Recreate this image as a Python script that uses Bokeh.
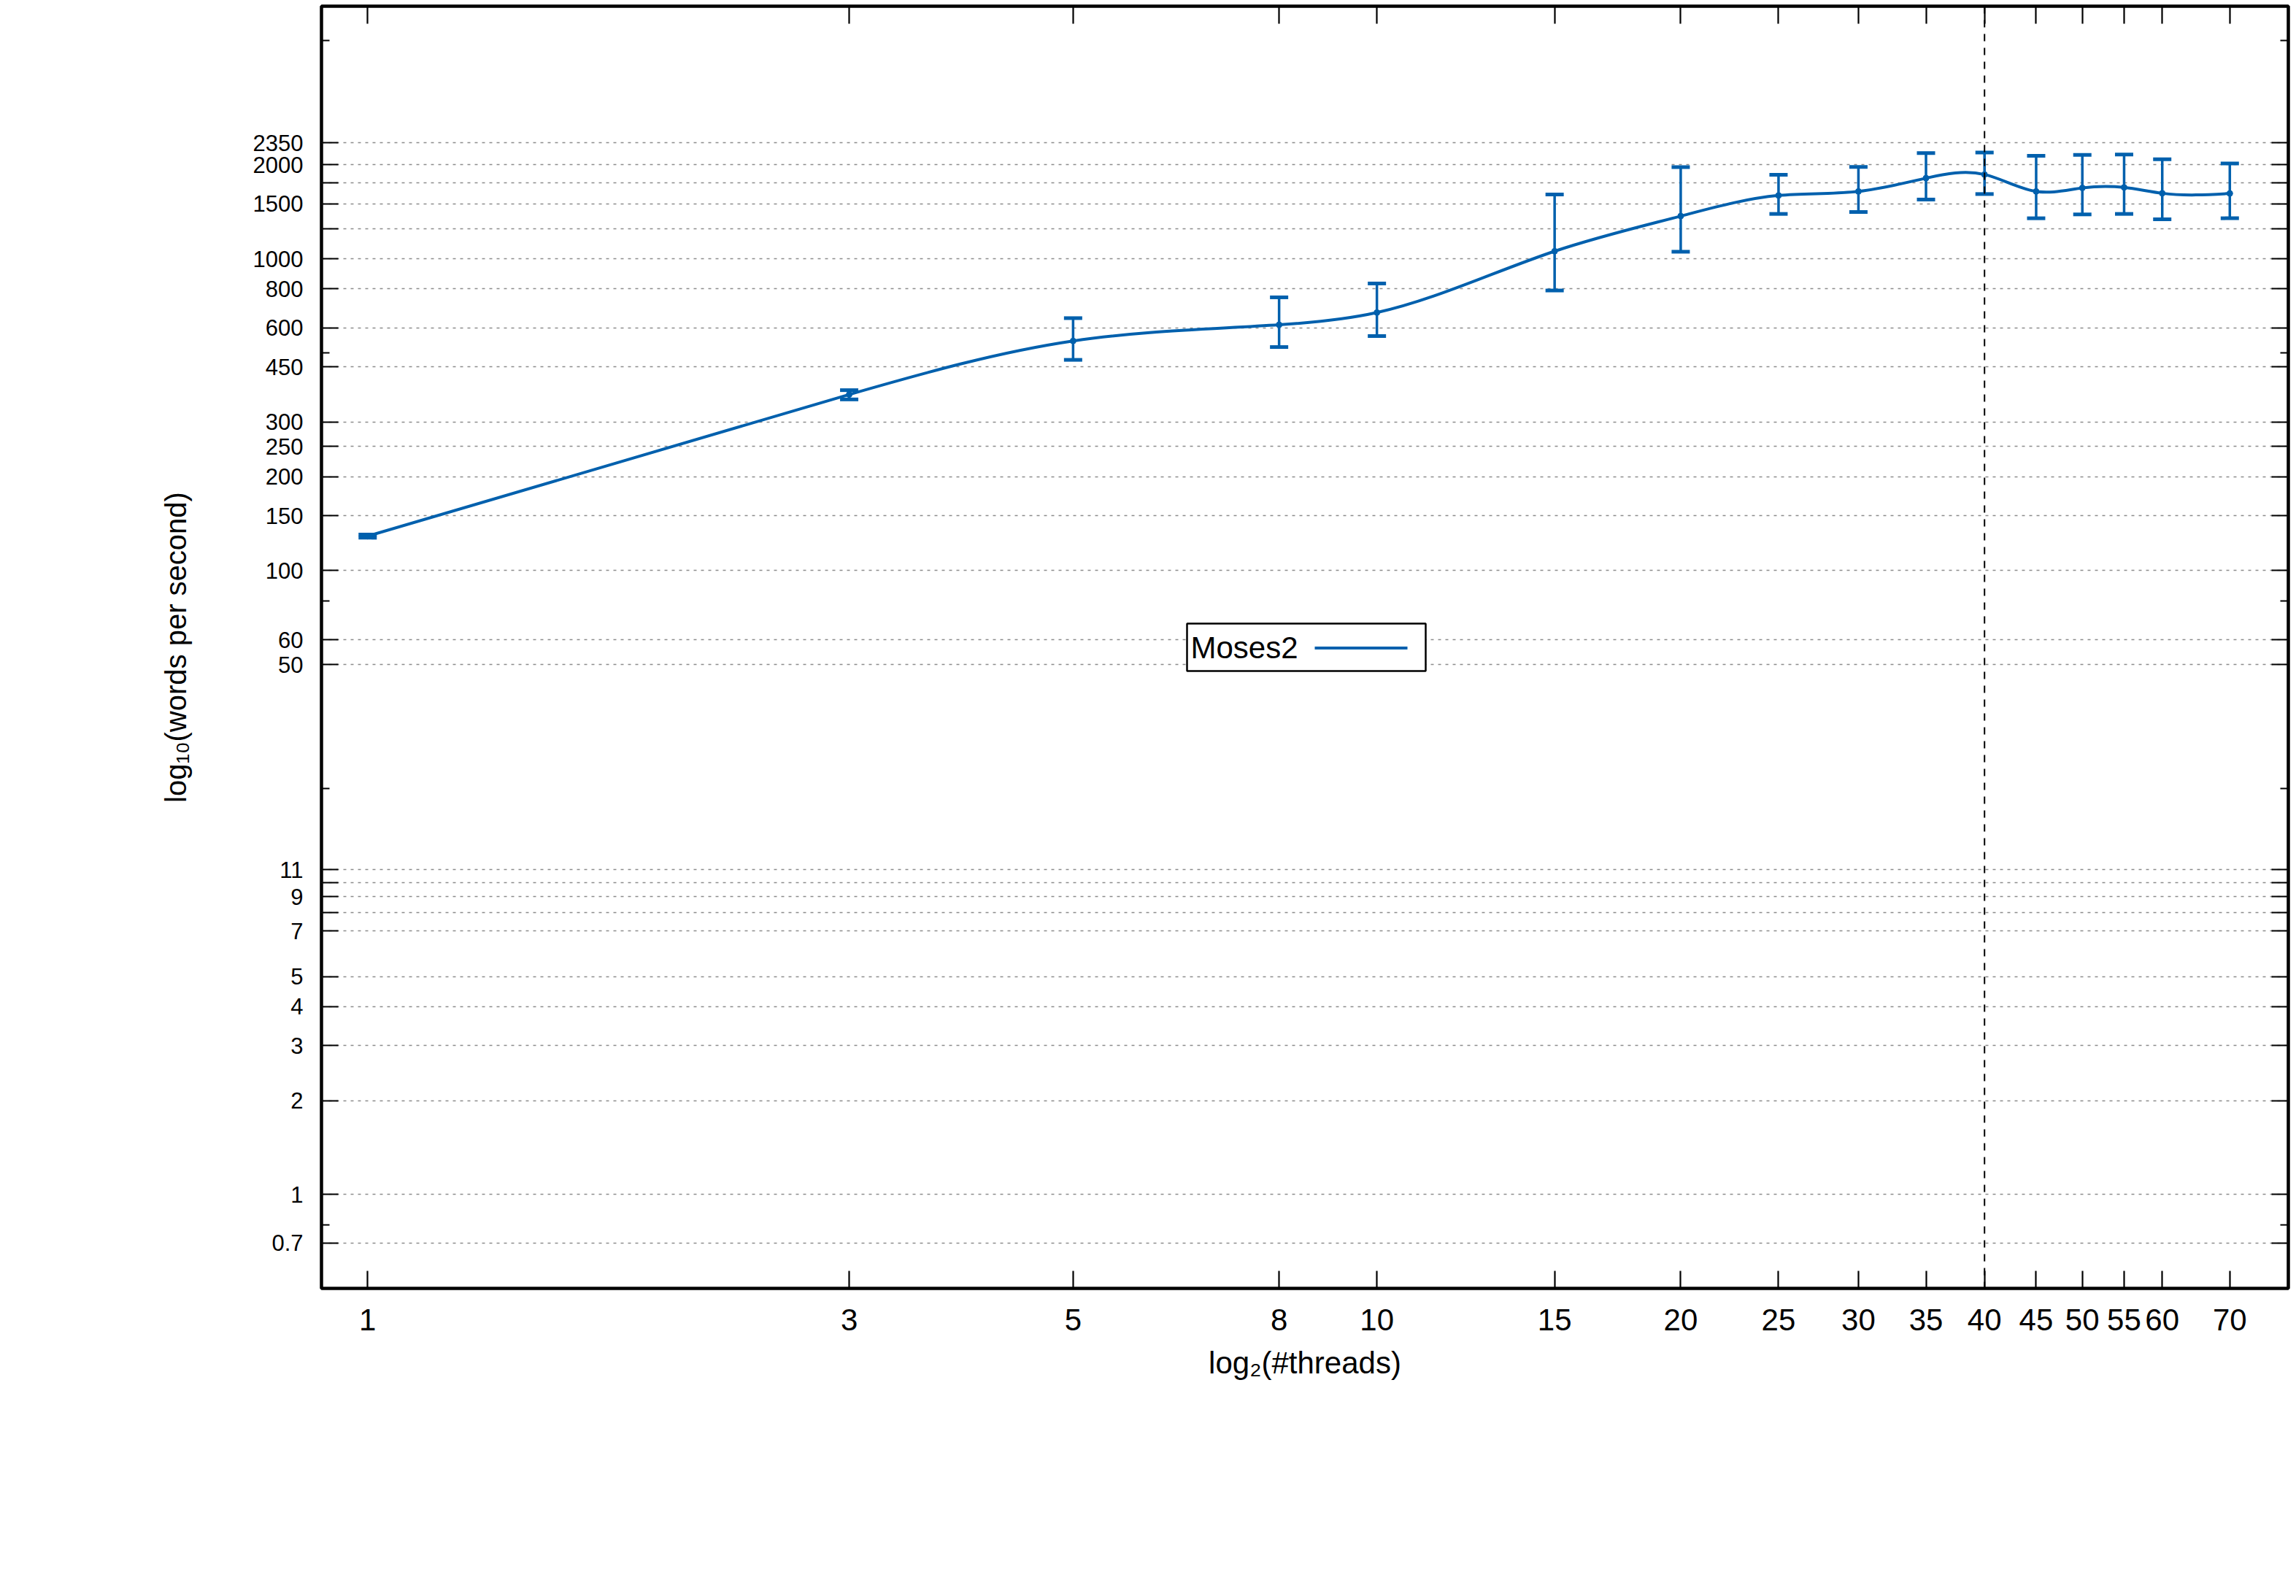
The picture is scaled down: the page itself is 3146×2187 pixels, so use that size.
import numpy as np
from bokeh.plotting import figure
from bokeh.models import (LogAxis, FixedTicker, Span, Whisker, TeeHead,
                          ColumnDataSource, BoxAnnotation, Label, Range1d)
from bokeh.embed import file_html
from bokeh.resources import INLINE

# ---------------- data ----------------
threads = [1, 3, 5, 8, 10, 15, 20, 25, 30, 35, 40, 45, 50, 55, 60, 70]
wps_mean = [129, 367, 545, 614, 672, 1057, 1370, 1595, 1643, 1813, 1862,
            1643, 1687, 1693, 1621, 1619]
wps_low = [127.5, 354, 474, 521, 565, 791, 1053, 1392, 1412, 1548, 1612,
           1348, 1387, 1392, 1338, 1348]
wps_high = [130.5, 379, 645, 752, 833, 1607, 1966, 1859, 1969, 2182, 2190,
            2139, 2151, 2158, 2083, 2020]
series_name = "Moses2"

x_ticks = [1, 3, 5, 8, 10, 15, 20, 25, 30, 35, 40, 45, 50, 55, 60, 70]
x_tick_labels = ["1", "3", "5", "8", "10", "15", "20", "25", "30", "35",
                 "40", "45", "50", "55", "60", "70"]
y_ticks = [0.7, 1, 2, 3, 4, 5, 7, 8, 9, 10, 11, 50, 60, 100, 150, 200, 250,
           300, 450, 600, 800, 1000, 1250, 1500, 1750, 2000, 2350]
y_tick_labels = ["0.7", "1", "2", "3", "4", "5", "7", "", "9", "", "11", "50",
                 "60", "100", "150", "200", "250", "300", "450", "600", "800",
                 "1000", "", "1500", "", "2000", "2350"]
y_minor_ticks = [0.8, 20, 80, 500, 5000]
marker_x = [40]

x_label = "log\u2082(#threads)"
y_label = "log\u2081\u2080(words per second)"

# ---------------- style ----------------
BLUE = "#0060ad"
FONT = "Liberation Sans"

p = figure(width=3140, height=2180,
           x_axis_type="log", y_axis_type="log",
           x_range=Range1d(0.9, 80), y_range=Range1d(0.5, 6450),
           output_backend="svg", toolbar_location=None,
           min_border_left=440, min_border_right=5,
           min_border_top=8, min_border_bottom=415)
p.background_fill_color = "white"
p.border_fill_color = "white"
p.outline_line_color = "black"
p.outline_line_width = 4.5
p.outline_line_alpha = 1.0

p.xgrid.visible = False
p.ygrid.ticker = FixedTicker(ticks=y_ticks)
p.ygrid.grid_line_color = "#8c8c8c"
p.ygrid.grid_line_width = 1.5
p.ygrid.grid_line_dash = "4 6"


def style_axis(ax, ticks, labels, minor, font_size, tick_len, show):
    ax.ticker = FixedTicker(ticks=ticks, minor_ticks=minor)
    ax.axis_line_color = None
    ax.major_tick_in = tick_len
    ax.major_tick_out = 0
    ax.minor_tick_in = 11
    ax.minor_tick_out = 0
    ax.major_tick_line_color = "black"
    ax.minor_tick_line_color = "black"
    ax.major_tick_line_width = 2.2
    ax.minor_tick_line_width = 2.2
    if show:
        ax.major_label_overrides = {t: l for t, l in zip(ticks, labels)}
        ax.major_label_text_font = FONT
        ax.major_label_text_font_size = font_size
        ax.major_label_text_color = "black"
    else:
        ax.major_label_overrides = {t: "" for t in ticks}
        ax.major_label_text_font_size = "0px"
        ax.major_label_standoff = 0
        ax.axis_label = None


xb = p.xaxis[0]
yl = p.yaxis[0]
style_axis(xb, x_ticks, x_tick_labels, [], "42px", 24, True)
style_axis(yl, y_ticks, y_tick_labels, y_minor_ticks, "31px", 23, True)
xb.major_label_standoff = 28
yl.major_label_standoff = 25

xb.axis_label = x_label
xb.axis_label_text_font = FONT
xb.axis_label_text_font_size = "42px"
xb.axis_label_text_font_style = "normal"
xb.axis_label_text_color = "black"
xb.axis_label_standoff = 18

yl.axis_label = y_label
yl.axis_label_text_font = FONT
yl.axis_label_text_font_size = "40px"
yl.axis_label_text_font_style = "normal"
yl.axis_label_text_color = "black"
yl.axis_label_standoff = 81

xt = LogAxis()
style_axis(xt, x_ticks, x_tick_labels, [], "0px", 24, False)
p.add_layout(xt, "above")
yr = LogAxis()
style_axis(yr, y_ticks, y_tick_labels, y_minor_ticks, "0px", 23, False)
p.add_layout(yr, "right")

# ---------------- smooth curve (natural cubic spline in log-log space) ----
lx = np.log10(np.array(threads, dtype=float))
ly = np.log10(np.array(wps_mean, dtype=float))
n = len(lx)
h = np.diff(lx)
A = np.zeros((n, n))
r = np.zeros(n)
A[0, 0] = 1.0
A[-1, -1] = 1.0
for i in range(1, n - 1):
    A[i, i - 1] = h[i - 1]
    A[i, i] = 2.0 * (h[i - 1] + h[i])
    A[i, i + 1] = h[i]
    r[i] = 6.0 * ((ly[i + 1] - ly[i]) / h[i] - (ly[i] - ly[i - 1]) / h[i - 1])
M = np.linalg.solve(A, r)
sec = np.diff(ly) / h
d0 = sec - h * (2 * M[:-1] + M[1:]) / 6.0
d1 = sec + h * (M[:-1] + 2 * M[1:]) / 6.0
curve = ColumnDataSource(dict(
    x0=10 ** lx[:-1], y0=10 ** ly[:-1],
    x1=10 ** lx[1:], y1=10 ** ly[1:],
    cx0=10 ** (lx[:-1] + h / 3), cy0=10 ** (ly[:-1] + d0 * h / 3),
    cx1=10 ** (lx[1:] - h / 3), cy1=10 ** (ly[1:] - d1 * h / 3),
))
p.bezier(x0="x0", y0="y0", x1="x1", y1="y1", cx0="cx0", cy0="cy0",
         cx1="cx1", cy1="cy1", source=curve, line_color=BLUE, line_width=4,
         line_cap="round")

# ---------------- error bars and points ----------------
err = ColumnDataSource(dict(x=threads, lower=wps_low, upper=wps_high,
                            y=wps_mean))
p.add_layout(Whisker(source=err, base="x", upper="upper", lower="lower",
                     dimension="height", line_color=BLUE, line_width=3.5,
                     upper_head=TeeHead(size=25, line_color=BLUE, line_width=5),
                     lower_head=TeeHead(size=25, line_color=BLUE, line_width=5)))
p.scatter("x", "y", source=err, size=8, color=BLUE)

# vertical dashed marker
p.add_layout(Span(location=marker_x[0], dimension="height", line_color="black",
                  line_width=2, line_dash="10 9"))

# ---------------- key box (gnuplot style: title, then line sample) --------
p.add_layout(BoxAnnotation(left=1186, right=1513, bottom=846, top=911,
                           left_units="screen", right_units="screen",
                           bottom_units="screen", top_units="screen",
                           fill_color="white", fill_alpha=1.0,
                           line_color="black", line_width=2.5,
                           line_alpha=1.0))
p.add_layout(BoxAnnotation(left=1361, right=1488, bottom=875.5, top=879.5,
                           left_units="screen", right_units="screen",
                           bottom_units="screen", top_units="screen",
                           fill_color=BLUE, fill_alpha=1.0,
                           line_color=None))
p.add_layout(Label(x=1191, y=878.5, x_units="screen", y_units="screen",
                   text=series_name, text_font=FONT, text_font_size="42px",
                   text_color="black", text_align="left",
                   text_baseline="alphabetic"))

open("out.html", "w").write(file_html(p, INLINE))
